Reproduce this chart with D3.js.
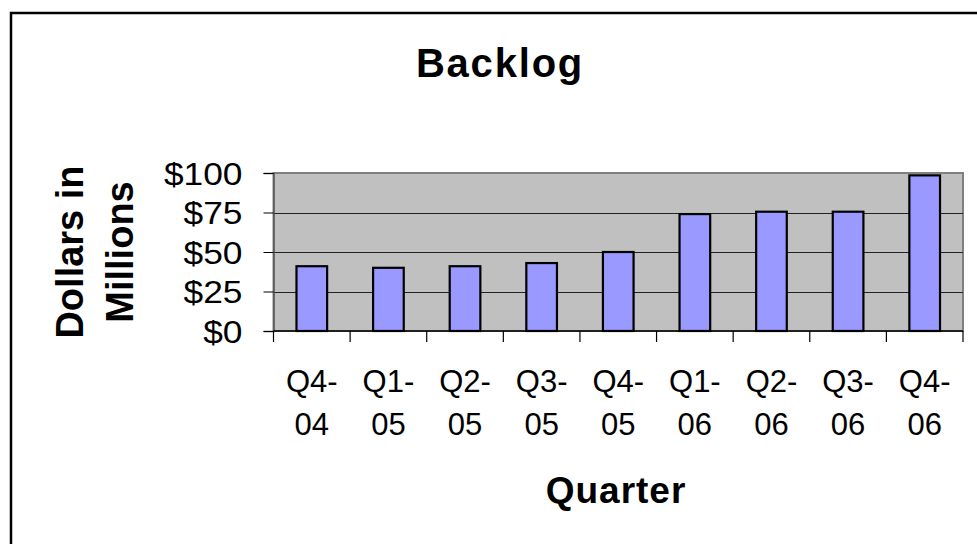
<!DOCTYPE html>
<html>
<head>
<meta charset="utf-8">
<script src="https://cdn.jsdelivr.net/npm/d3@7"></script>
<style>
html,body{margin:0;padding:0;background:#fff;}
svg{display:block;font-family:"Liberation Sans",Arial,Helvetica,sans-serif;}
</style>
</head>
<body>
<svg id="chart" width="977" height="544"></svg>
<script>
const quartersLine1 = ["Q4-","Q1-","Q2-","Q3-","Q4-","Q1-","Q2-","Q3-","Q4-"];
const quartersLine2 = ["04","05","05","05","05","06","06","06","06"];
const categories = quartersLine1.map((q,i)=>q+quartersLine2[i]);
const backlog = [41, 40, 41, 43, 50, 74, 75.5, 75.5, 98.5];
const yTicks = [0, 25, 50, 75, 100];
const titleText = "Backlog";
const xTitle = "Quarter";
const yTitleLines = ["Dollars in", "Millions"];

const svg = d3.select("#chart");
const plot = {left: 273.5, right: 963, top: 173, bottom: 331};

// outer chart border (left & top visible)
svg.append("rect").attr("x", 11).attr("y", 13).attr("width", 1000).attr("height", 700)
  .attr("fill", "none").attr("stroke", "#000").attr("stroke-width", 2.5);

const x = d3.scaleBand().domain(categories).range([plot.left, plot.right])
  .paddingInner(0.6).paddingOuter(0.3);
const y = d3.scaleLinear().domain([0, 100]).range([plot.bottom, plot.top]);

// plot area
svg.append("rect").attr("x", plot.left).attr("y", plot.top)
  .attr("width", plot.right - plot.left).attr("height", plot.bottom - plot.top)
  .attr("fill", "#c0c0c0").attr("stroke", "#808080").attr("stroke-width", 2);

// gridlines
svg.append("g").selectAll("line").data(yTicks.filter(d => d > 0 && d < 100)).join("line")
  .attr("x1", plot.left).attr("x2", plot.right)
  .attr("y1", d => Math.round(y(d)) + 0.5).attr("y2", d => Math.round(y(d)) + 0.5)
  .attr("stroke", "#222").attr("stroke-width", 1);

// bars
svg.append("g").selectAll("rect").data(backlog).join("rect")
  .attr("x", (d,i) => x(categories[i]))
  .attr("y", d => y(d))
  .attr("width", x.bandwidth())
  .attr("height", d => y(0) - y(d))
  .attr("fill", "#9999ff").attr("stroke", "#000").attr("stroke-width", 2.2);

// y axis
const yAxis = d3.axisLeft(y).tickValues(yTicks).tickSize(10).tickPadding(21)
  .tickFormat(d => "$" + d);
const gy = svg.append("g").attr("transform", `translate(${plot.left},0)`).call(yAxis);
gy.select(".domain").attr("stroke", "#555").attr("stroke-width", 1.5);
gy.selectAll(".tick line").attr("stroke", "#000");
gy.selectAll(".tick text").attr("font-size", 31).attr("fill", "#000")
  .attr("font-family", "Liberation Sans, Arial, sans-serif").attr("dy", "0.36em")
  .each(function() {
    const w = this.getComputedTextLength();
    d3.select(this).attr("textLength", w * 1.14).attr("lengthAdjust", "spacingAndGlyphs");
  });

// x axis baseline
svg.append("line").attr("x1", plot.left).attr("x2", plot.right)
  .attr("y1", plot.bottom).attr("y2", plot.bottom).attr("stroke", "#000").attr("stroke-width", 1.5);

// x ticks at category boundaries
const step = x.step();
const boundaries = d3.range(categories.length + 1).map(i => plot.left + i * step);
svg.append("g").selectAll("line").data(boundaries).join("line")
  .attr("x1", d => d).attr("x2", d => d)
  .attr("y1", plot.bottom).attr("y2", plot.bottom + 11)
  .attr("stroke", "#000").attr("stroke-width", 1.2);

// x labels
const xl = svg.append("g").attr("font-size", 31).attr("text-anchor", "middle").attr("fill", "#000");
xl.selectAll("text.l1").data(quartersLine1).join("text").attr("class", "l1")
  .attr("x", (d,i) => x(categories[i]) + x.bandwidth()/2).attr("y", 392).text(d => d);
xl.selectAll("text.l2").data(quartersLine2).join("text").attr("class", "l2")
  .attr("x", (d,i) => x(categories[i]) + x.bandwidth()/2).attr("y", 435).text(d => d);

// title
svg.append("text").attr("x", 500).attr("y", 77).attr("text-anchor", "middle")
  .attr("font-size", 40).attr("font-weight", "bold").attr("letter-spacing", 1.8).text(titleText);

// x title
svg.append("text").attr("x", 616).attr("y", 503).attr("text-anchor", "middle")
  .attr("font-size", 37).attr("font-weight", "bold").attr("letter-spacing", 1).text(xTitle);

// y title
const cy = (plot.top + plot.bottom) / 2;
const yt = svg.append("g").attr("font-size", 38).attr("font-weight", "bold").attr("text-anchor", "middle");
yt.selectAll("text").data(yTitleLines).join("text")
  .attr("transform", (d,i) => `translate(${i === 0 ? 83 : 133},${cy}) rotate(-90)`)
  .text(d => d);
</script>
</body>
</html>
